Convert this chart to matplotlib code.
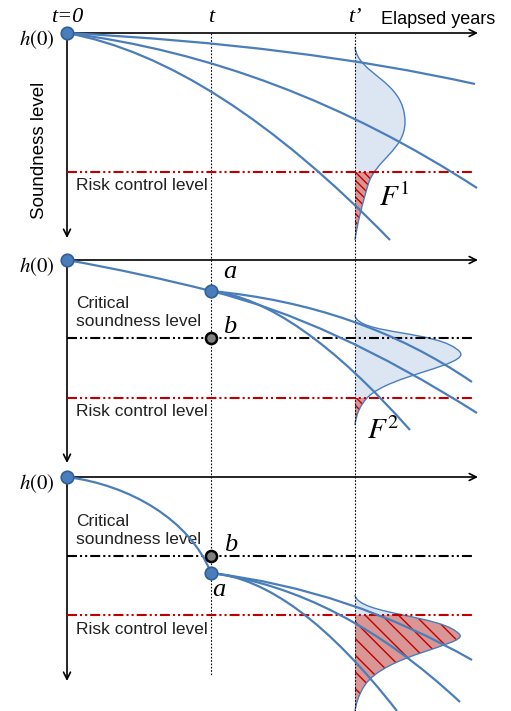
import matplotlib
matplotlib.use('Agg')
import matplotlib.pyplot as plt
from matplotlib.path import Path
from matplotlib.patches import PathPatch, Rectangle

plt.rcParams['mathtext.fontset'] = 'stix'
plt.rcParams['hatch.linewidth'] = 1.0

BLUE = '#4a7ebb'
BLUE_DARK = '#2f5f9e'
FILL_BLUE = '#dce6f2'
RED = '#c00000'
PINK = '#d99694'

# layout of the three panels (pixel coordinates, y grows downward)
x_origin = 67
x_t = 211
x_tp = 355
x_axis_end = 478
x_level_end = 472
origin_y = [33, 260, 477]
axis_end_y = [238, 463, 681]
critical_y = [None, 338, 556]
risk_y = [172, 398, 615]

# degradation curves as quadratic Bezier (start, control, end)
curves_1 = [
    [(67, 33), (300, 45), (475, 84)],
    [(67, 33), (280, 60), (477, 188)],
    [(67, 33), (215, 60), (390, 240)],
]
curves_2 = [
    [(67, 260), (140, 273), (211, 291)],
    [(211, 291), (360, 305), (472, 382)],
    [(211, 291), (330, 320), (477, 413)],
    [(211, 291), (295, 300), (410, 430)],
]
curves_3 = [
    [(211, 573), (350, 590), (472, 660)],
    [(211, 573), (340, 590), (460, 702)],
    [(211, 573), (295, 580), (397, 711)],
]
# cubic curve h(0) -> a in panel 3
curve_3_lead = [(67, 477), (130, 485), (190, 520), (211, 573)]

# distributions at t' as chains of cubic Bezier segments
dist_1 = [(355, 47),
          (358, 75), (405, 80), (405, 122),
          (405, 150), (375, 160), (368, 185),
          (362, 205), (357, 225), (355, 240)]
dist_2 = [(355, 315),
          (357, 335), (440, 330), (460, 352),
          (470, 365), (390, 375), (368, 397),
          (360, 405), (356, 415), (355, 425)]
dist_3 = [(355, 595),
          (358, 615), (445, 615), (460, 635),
          (465, 645), (385, 655), (365, 685),
          (358, 695), (356, 705), (355, 711)]

points_a = [(211, 291), (211, 573)]
points_b = [(211, 338), (211, 556)]


def quad_path(pts):
    return Path(pts, [Path.MOVETO, Path.CURVE3, Path.CURVE3])


def dist_paths(pts):
    n_seg = (len(pts) - 1) // 3
    codes = [Path.MOVETO] + [Path.CURVE4] * (3 * n_seg)
    outline = Path(pts, codes)
    closed = Path(pts + [pts[0], pts[0]], codes + [Path.LINETO, Path.CLOSEPOLY])
    return outline, closed


fig = plt.figure(figsize=(5.11, 7.11), dpi=100)
ax = fig.add_axes([0, 0, 1, 1])
ax.set_xlim(0, 511)
ax.set_ylim(711, 0)
ax.axis('off')

level_dash = (0, (4.8, 1.45, 1, 1.45, 1, 1.45))

# distributions
for dist, ry, hatch in zip([dist_1, dist_2, dist_3], risk_y,
                           ['\\\\\\\\', '\\\\\\\\', '\\\\']):
    outline, closed = dist_paths(dist)
    ax.add_patch(PathPatch(closed, facecolor=FILL_BLUE, edgecolor='none', zorder=1))
    red = PathPatch(closed, facecolor=PINK, edgecolor=RED, lw=0, hatch=hatch, zorder=1.5)
    ax.add_patch(red)
    red.set_clip_path(Rectangle((0, ry), 511, 711 - ry, transform=ax.transData))
    ax.add_patch(PathPatch(outline, facecolor='none', edgecolor=BLUE, lw=1.0, zorder=2))

# vertical time lines
ax.plot([x_t, x_t], [origin_y[0], 676], color='black', lw=0.8,
        linestyle=(0, (1.5, 1.5)), zorder=2)
ax.plot([x_tp, x_tp], [origin_y[0], 711], color='black', lw=0.8,
        linestyle=(0, (1.5, 1.5)), zorder=2)

# axes with arrows
for oy, ey in zip(origin_y, axis_end_y):
    ax.annotate('', xy=(x_axis_end, oy), xytext=(x_origin, oy),
                arrowprops=dict(arrowstyle='->,head_length=0.5,head_width=0.25',
                                lw=1.2, color='black', shrinkA=0, shrinkB=0), zorder=3)
    ax.annotate('', xy=(x_origin, ey), xytext=(x_origin, oy),
                arrowprops=dict(arrowstyle='->,head_length=0.5,head_width=0.25',
                                lw=1.2, color='black', shrinkA=0, shrinkB=0), zorder=3)
    ax.text(x_origin - 12, oy + 7, r'$h(0)$', fontsize=15, ha='right', va='center')

# levels
for ry in risk_y:
    ax.plot([x_origin, x_level_end], [ry, ry], color=RED, lw=1.5,
            linestyle=level_dash, zorder=3)
    ax.text(76, ry + 14, 'Risk control level', fontsize=12.5,
            family='Liberation Sans', ha='left', va='center', color='#222222')
for cy in critical_y[1:]:
    ax.plot([x_origin, x_level_end], [cy, cy], color='black', lw=1.5,
            linestyle=level_dash, zorder=3)
    ax.text(76, cy - 25, 'Critical\nsoundness level', fontsize=12.5,
            family='Liberation Sans', ha='left', va='center', color='#222222',
            linespacing=1.25)

# degradation curves
for c in curves_1 + curves_2 + curves_3:
    ax.add_patch(PathPatch(quad_path(c), facecolor='none', edgecolor=BLUE, lw=1.6, zorder=4))
ax.add_patch(PathPatch(Path(curve_3_lead, [Path.MOVETO] + [Path.CURVE4] * 3),
                       facecolor='none', edgecolor=BLUE, lw=1.6, zorder=4))

# points
for oy in origin_y:
    ax.plot(x_origin, oy, 'o', ms=9, mfc=BLUE, mec=BLUE_DARK, mew=1.2, zorder=5)
for px, py in points_a:
    ax.plot(px, py, 'o', ms=9, mfc=BLUE, mec=BLUE_DARK, mew=1.2, zorder=5)
for px, py in points_b:
    ax.plot(px, py, 'o', ms=8, mfc='#808080', mec='black', mew=1.8, zorder=5)

# labels
serif = dict(family='Liberation Serif', style='italic')
ax.text(x_origin, 17, 't=0', fontsize=16, ha='center', va='center', **serif)
ax.text(x_t, 17, 't', fontsize=16, ha='center', va='center', **serif)
ax.text(x_tp, 17, 't\u2019', fontsize=16, ha='center', va='center', **serif)
ax.text(438, 19, 'Elapsed years', fontsize=13, family='Liberation Sans',
        ha='center', va='center')
ax.text(39, 150, 'Soundness level', fontsize=13.5, family='Liberation Sans',
        rotation=90, ha='center', va='center')

ax.text(230, 272, 'a', fontsize=19, ha='center', va='center', **serif)
ax.text(230, 327, 'b', fontsize=19, ha='center', va='center', **serif)
ax.text(231, 545, 'b', fontsize=19, ha='center', va='center', **serif)
ax.text(219, 590, 'a', fontsize=19, ha='center', va='center', **serif)

ax.text(394, 198, r'$F^1$', fontsize=21, ha='center', va='center')
ax.text(383, 431, r'$F^2$', fontsize=21, ha='center', va='center')

fig.savefig('out.png', dpi=100)
